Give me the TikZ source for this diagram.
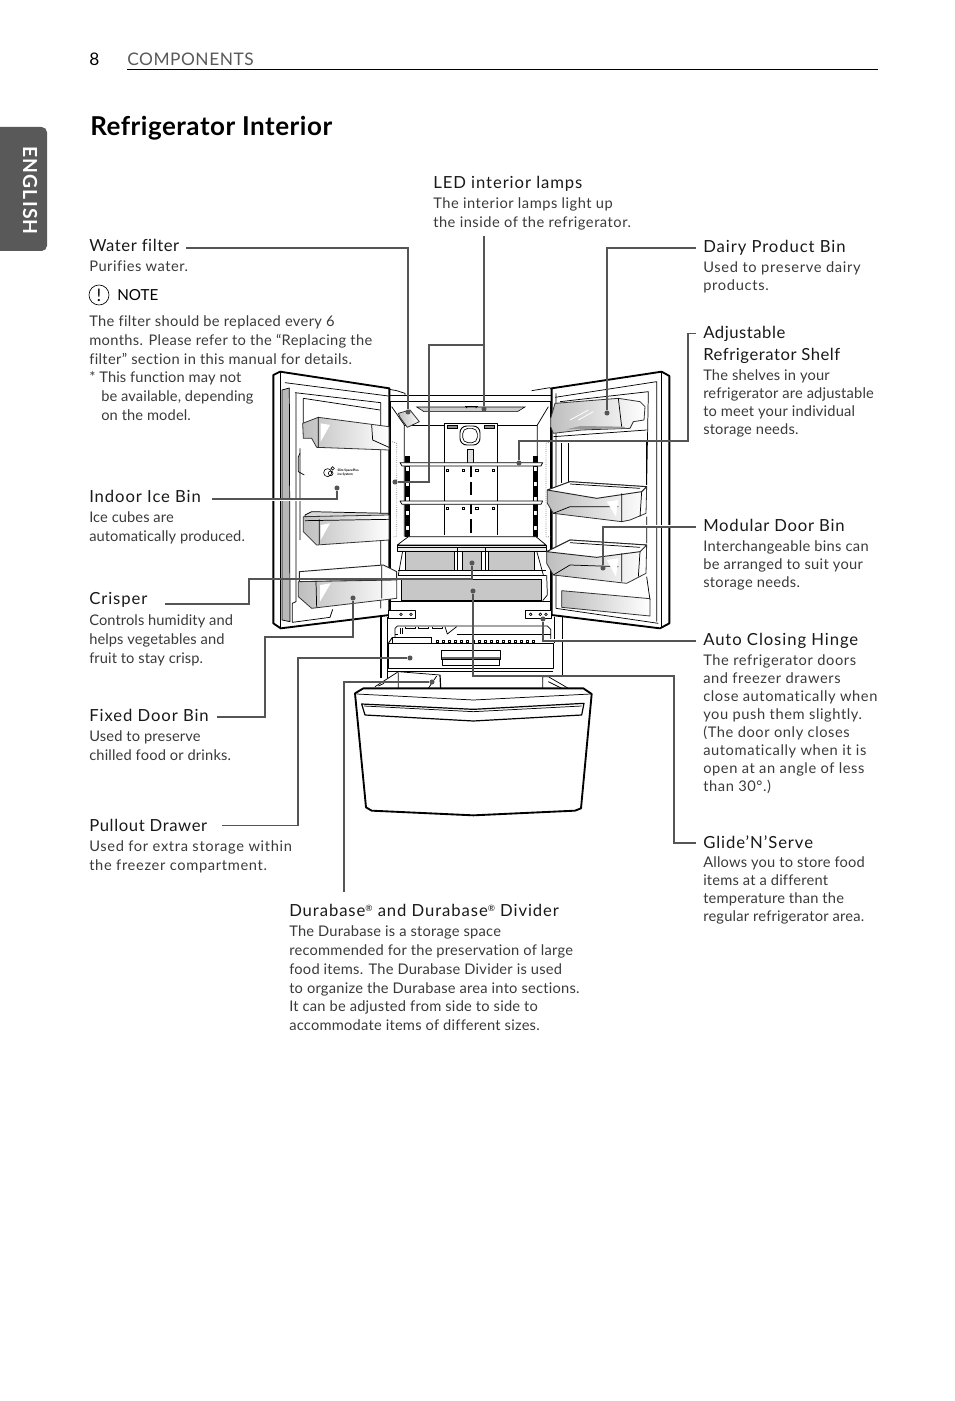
\documentclass[tikz,border=0pt]{standalone}
\usepackage{fontspec}
\setmainfont{Lato}[Ligatures=CommonOff]
\definecolor{leadgray}{HTML}{555555}
\definecolor{textgray}{HTML}{3A3A3A}
\definecolor{binshade}{HTML}{BEBEBE}
\definecolor{tabgray}{HTML}{595959}
\tikzset{
  headlbl/.style={anchor=north west, inner sep=0pt, yshift=-1.5pt, align=left, text=black!90, font=\fontsize{12.5}{16.5}\selectfont\addfontfeature{LetterSpace=#1}},
  headlbl/.default=5.5,
  bodylbl/.style={anchor=north west, inner sep=0pt, yshift=-2pt, align=left, text=textgray, font=\fontsize{11}{14.1}\selectfont\addfontfeature{LetterSpace=#1}},
  bodylbl/.default=3.5,
  bodyright/.style={anchor=north west, inner sep=0pt, yshift=-2pt, align=left, text=textgray, font=\fontsize{11}{13.5}\selectfont\addfontfeature{LetterSpace=#1}},
  bodyright/.default=3.5,
  leader/.style={draw=leadgray, line width=1.1pt, preaction={draw=white, line width=2.2pt}},
  dotmark/.style={circle, fill=leadgray, inner sep=0pt, minimum size=3.8pt, outer sep=0pt},
  doorline/.style={draw=black, line width=1.4pt, line join=round},
  thinline/.style={draw=black, line width=0.55pt, line join=round},
  binline/.style={draw=black!80, line width=0.6pt, line join=round, left color=binshade, right color=white},
  rimline/.style={draw=black!85, line width=0.7pt, line join=round, fill=white},
  glint/.style={fill=white, draw=none},
  grayfill/.style={draw=black, line width=0.55pt, fill=black!22}
}
\newcommand{\regmark}{\raisebox{3.5pt}{\fontsize{6.5}{7}\selectfont ®}}
\begin{document}
\begin{tikzpicture}[x=0.75pt, y=-0.75pt]
  \useasboundingbox (0,0) rectangle (954,1401);
  \fill[tabgray, rounded corners=4pt] (-8,127) rectangle (47,251);
  \node[rotate=-90, text=white, font=\fontsize{14.5}{15}\bfseries\selectfont\addfontfeature{LetterSpace=6}] (tabEnglish) at (30,190.5) {ENGLISH};
  \node[anchor=west, inner sep=0pt, font=\fontsize{13}{15}\selectfont] (pageNum) at (89,59.5) {8};
  \node[anchor=west, inner sep=0pt, text=black!65, font=\fontsize{13}{15}\selectfont\addfontfeature{LetterSpace=3}] (pageHead) at (127,59.5) {COMPONENTS};
  \draw[black, line width=0.65pt] (127,69) -- (878,69);
  \node[anchor=west, inner sep=0pt, font=\fontsize{19.5}{22}\bfseries\selectfont\addfontfeature{LetterSpace=2}] (pageTitle) at (90,128) {Refrigerator Interior};

  \begin{scope}[shift={(260,360)}, x=0.25pt, y=-0.25pt]
    \draw[thinline] (388,88) -- (410,92) -- (435,100) -- (435,108);
    \draw[thinline] (815,92) -- (870,83) -- (875,90);
    \draw[thinline] (388,105) -- (875,105) (388,123) -- (875,123);
    \draw[thinline] (392,123) -- (392,765) (870,123) -- (870,765);
    \draw[thinline] (395,140) -- (433,195) -- (433,530) (865,140) -- (832,195) -- (832,530);
    \draw[thinline] (433,195) -- (552,195) (712,195) -- (832,195);
    \draw[draw=black, fill=black!20, line width=0.4pt] (470,141) -- (795,141) -- (772,155) -- (492,155) -- cycle;
    \draw[black, line width=1pt] (615,140) -- (655,140);
    \fill (620,143) circle (2) (648,143) circle (2);
    \draw[binline] (415,160) -- (450,150) -- (478,185) -- (442,202) -- (420,172) -- cycle;
    \draw[black!50, densely dotted, line width=0.6pt] (397,245) -- (410,250) -- (410,530) -- (397,530);
    \draw[black!50, densely dotted, line width=0.6pt] (872,245) -- (858,250) -- (858,530) -- (872,530);
    \draw[thinline] (552,525) -- (552,190) -- (712,190) -- (712,525);
    \draw[fill=black!45, draw=black, line width=0.3pt] (563,197) rectangle (592,204) (672,197) rectangle (702,204);
    \draw[black, line width=0.7pt, rounded corners=5pt, fill=white] (600,198) rectangle (660,255);
    \draw[black, line width=0.5pt, rounded corners=4pt] (608,205) rectangle (652,248);
    \draw[thinline, fill=black!12] (623,268) rectangle (640,310);
    \foreach \railx in {442,826} {
      \draw[black, line width=0.45pt] (\railx-5,290) rectangle (\railx+5,530);
      \draw[black, line width=2pt, dash pattern=on 8pt off 3pt] (\railx,290) -- (\railx,530);
    }
    \draw[black, line width=1.6pt, dash pattern=on 10pt off 4pt] (632,310) -- (632,525);
    \foreach \shelfy in {310,425} {
      \draw[thinline, fill=white] (420,\shelfy-2) -- (848,\shelfy-2) -- (843,\shelfy+8) -- (426,\shelfy+8) -- cycle;
      \foreach \holex in {562,610,650,700}
        \draw[black, line width=0.35pt] (\holex-4,\shelfy+17) rectangle (\holex+4,\shelfy+23);
    }
    \draw[thinline, fill=white] (445,530) -- (828,530) -- (858,555) -- (412,555) -- cycle;
    \draw[thinline, fill=black!8] (412,555) rectangle (858,573);
    \draw[black, line width=0.5pt] (412,563) -- (858,563);
    \draw[grayfill] (437,575) rectangle (583,630);
    \draw[grayfill] (607,575) rectangle (665,630);
    \draw[grayfill] (685,575) rectangle (822,630);
    \draw[thinline] (592,565) -- (592,630) (675,565) -- (675,630);
    \draw[thinline] (428,573) -- (415,645) (830,573) -- (850,645);
    \draw[thinline] (415,632) -- (858,632) (415,645) -- (858,645);
    \draw[grayfill] (425,657) -- (845,657) -- (845,722) -- (425,722) -- cycle;
    \draw[thinline] (860,645) -- (862,705) -- (848,722);

    \draw[doorline, fill=white] (40,45) -- (60,35) -- (388,85) -- (388,765) -- (62,805) -- (40,790) -- cycle;
    \draw[thinline] (60,35) -- (60,805);
    \draw[thinline] (75,68) -- (385,108) (105,98) -- (362,128) -- (362,745);
    \draw[thinline, fill=black!28] (66,90) -- (88,84) -- (90,785) -- (66,780) -- cycle;
    \draw[thinline] (108,98) -- (108,725) -- (97,730) -- (97,787) -- (210,772) -- (218,748);
    \draw[thinline] (130,115) -- (360,150) (130,115) -- (130,190) (120,265) -- (120,540);
    \draw[thinline] (120,280) -- (115,290) -- (115,335) -- (133,345);
    \draw[binline] (128,190) -- (175,172) -- (387,200) -- (387,270) -- (170,262) -- (155,235) -- (130,235) -- cycle;
    \fill[glint] (182,190) -- (210,195) -- (182,245) -- cycle;
    \draw[thinline] (175,172) -- (175,262) (335,195) -- (338,240) -- (387,262);
    \draw[thinline, fill=black!15] (135,465) -- (155,455) -- (385,460) -- (385,470) -- (135,475) -- cycle;
    \draw[binline] (130,470) -- (387,465) -- (387,540) -- (170,555) -- (130,515) -- cycle;
    \fill[glint] (182,495) -- (210,490) -- (182,540) -- cycle;
    \draw[thinline] (135,482) -- (387,478) (178,478) -- (178,552);
    \draw[rimline] (118,635) -- (370,615) -- (410,635) -- (410,660) -- (118,665) -- cycle;
    \draw[binline] (115,665) -- (410,660) -- (410,715) -- (155,745) -- (115,710) -- cycle;
    \fill[glint] (180,675) -- (212,670) -- (180,725) -- cycle;
    \draw[thinline] (365,617) -- (365,715) (168,665) -- (170,742);
    \draw[black, line width=0.45pt] (203,338) circle (12) (218,325) circle (5) (212,340) circle (7);
    \node[anchor=west, inner sep=0pt, align=left, font=\fontsize{2.4}{3}\bfseries\selectfont] (logoText) at (232,337) {Slim SpacePlus\\Ice System};

    \draw[doorline, fill=white] (875,85) -- (1205,35) -- (1228,48) -- (1228,790) -- (1200,805) -- (875,765) -- cycle;
    \draw[thinline] (1205,35) -- (1205,805);
    \draw[thinline] (885,112) -- (1190,65) -- (1190,785);
    \draw[thinline] (900,125) -- (1165,95) -- (1160,375);
    \draw[thinline] (888,100) -- (888,745) -- (1195,790);
    \draw[thinline] (905,250) -- (905,370) (925,250) -- (925,370);
    \draw[black, line width=1pt] (1160,245) -- (1160,375);
    \draw[thinline] (1160,470) -- (1160,550) (1160,650) -- (1170,720);
    \draw[binline] (872,175) -- (885,130) -- (1075,115) -- (1140,125) -- (1155,140) -- (1152,180) -- (1120,185) -- (1110,205) -- (965,210) -- (880,220) -- (872,200) -- cycle;
    \fill[black!40] (920,208) -- (960,198) -- (1090,200) -- (1100,205) -- cycle;
    \draw[white, line width=0.6pt] (930,180) -- (985,150) (955,180) -- (1000,155);
    \draw[thinline] (1075,115) -- (1085,200) (880,230) -- (1160,210);
    \draw[binline] (862,390) -- (930,365) -- (1160,380) -- (1158,460) -- (1110,480) -- (1085,485) -- (880,460) -- (862,430) -- cycle;
    \draw[rimline] (862,390) -- (930,365) -- (1160,380) -- (1145,395) -- (1010,415) -- cycle;
    \draw[thinline] (930,372) -- (1140,385) (880,460) -- (930,440) -- (1075,440) (1145,395) -- (1140,470) (1085,400) -- (1085,485);
    \fill[glint] (1040,425) -- (1075,420) -- (1068,470) -- cycle;
    \draw[binline] (860,575) -- (930,540) -- (1160,555) -- (1158,640) -- (1100,670) -- (880,645) -- (860,610) -- cycle;
    \draw[rimline] (860,575) -- (930,540) -- (1160,555) -- (1140,575) -- (1010,592) -- cycle;
    \draw[thinline] (930,548) -- (1140,562) (880,645) -- (930,615) -- (1075,620) (1140,575) -- (1135,650) (1085,580) -- (1085,665);
    \fill[glint] (1040,600) -- (1075,595) -- (1068,650) -- cycle;
    \draw[binline] (905,692) -- (1170,716) -- (1170,768) -- (905,742) -- cycle;
  \end{scope}

  \begin{scope}[shift={(260,560)}, x=0.25pt, y=-0.25pt]
    \draw[thinline] (388,125) -- (875,125);
    \draw[thinline, fill=white] (385,150) rectangle (465,175);
    \draw[thinline, fill=white] (797,150) rectangle (875,175);
    \foreach \boltx in {423,453,812,841,858}
      \draw[black, line width=0.5pt] (\boltx,163) circle (4);
    \draw[line width=0.9pt] (363,170) -- (363,355) (907,170) -- (907,345);
    \draw[line width=0.7pt] (383,170) -- (383,355) (883,170) -- (883,250);
    \draw[thinline] (405,232) -- (405,205) -- (412,198) -- (862,198) -- (872,208) -- (872,245);
    \draw[thinline] (405,222) -- (415,222) (590,222) -- (872,222);
    \draw[thinline] (420,205) -- (420,222) (428,205) -- (428,222) (436,200) -- (436,206) -- (465,206) -- (465,200) (476,200) -- (476,206) -- (504,206) -- (504,200) (518,200) -- (518,206) -- (546,206) -- (546,200);
    \draw[thinline] (555,200) -- (562,222) -- (590,200);
    \draw[black, line width=1pt, fill=white] (397,232) rectangle (515,250);
    \foreach \bumpx in {532,550,...,832}
      \draw[black, line width=0.4pt] (\bumpx-3,241) rectangle (\bumpx+3,248);
    \draw[thinline, line width=0.7pt, fill=white] (385,250) -- (880,250) -- (880,325) -- (385,325) -- cycle;
    \draw[thinline, line width=0.7pt] (385,250) -- (397,232);
    \draw[thinline] (545,270) rectangle (721,298);
    \draw[black!60, line width=1.2pt] (545,294) -- (721,294);
    \draw[thinline] (548,298) rectangle (719,315);
    \draw[thinline] (385,334) -- (880,334);
    \draw[thinline] (345,380) -- (415,335) -- (540,345);
    \draw[black, line width=0.9pt] (540,345) -- (542,385);
    \draw[thinline] (415,338) -- (415,385) (355,378) -- (372,370) (505,385) -- (530,348);
    \draw[thinline] (925,385) -- (865,350) -- (848,350) -- (848,385) (865,365) -- (905,385);
    \draw[doorline, fill=white] (285,400) -- (310,385) -- (970,385) -- (995,402) -- (963,745) -- (945,752) -- (640,766) -- (335,752) -- (318,742) -- cycle;
    \draw[thinline] (290,402) -- (640,420) -- (992,402);
    \draw[doorline, line width=0.9pt] (305,432) -- (640,448) -- (972,430) -- (965,465) -- (640,483) -- (315,465) -- cycle;
    \draw[thinline] (312,438) -- (640,455) -- (965,438);
  \end{scope}

  \node[headlbl=3.5] (lblFilter) at (89,237) {Water filter};
  \node[bodylbl] (lblFilterBody) at (89,258) {Purifies water.};
  \node[circle, draw=black, line width=0.5pt, minimum size=15pt, inner sep=0pt, font=\fontsize{13}{14}\selectfont] (noteIcon) at (99,295) {!};
  \node[anchor=west, inner sep=0pt, font=\fontsize{11.4}{13}\selectfont] (noteHead) at (117,295) {NOTE};
  \node[bodylbl=2.4] (lblNote) at (89,313) {The filter should be replaced every 6\\months. Please refer to the “Replacing the\\filter” section in this manual for details.};
  \node[bodylbl=0.8] (lblNoteStar) at (89,369) {* This function may not\\\hspace*{9pt}be available, depending\\\hspace*{9pt}on the model.};
  \node[headlbl] (lblLed) at (433,174) {LED interior lamps};
  \node[bodylbl] (lblLedBody) at (433,195) {The interior lamps light up\\the inside of the refrigerator.};
  \node[headlbl] (lblDairy) at (703,238) {Dairy Product Bin};
  \node[bodyright=4.7] (lblDairyBody) at (703,259) {Used to preserve dairy\\products.};
  \node[headlbl=3.2] (lblShelf) at (703,324) {Adjustable\\Refrigerator Shelf};
  \node[bodyright=1.2] (lblShelfBody) at (703,367) {The shelves in your\\refrigerator are adjustable\\to meet your individual\\storage needs.};
  \node[headlbl] (lblIce) at (89,488) {Indoor Ice Bin};
  \node[bodylbl=0.6] (lblIceBody) at (89,509) {Ice cubes are\\automatically produced.};
  \node[headlbl=4.5] (lblModular) at (703,517) {Modular Door Bin};
  \node[bodyright=2.1] (lblModularBody) at (703,538) {Interchangeable bins can\\be arranged to suit your\\storage needs.};
  \node[headlbl] (lblCrisper) at (89,590) {Crisper};
  \node[bodylbl=0.6] (lblCrisperBody) at (89,612) {Controls humidity and\\helps vegetables and\\fruit to stay crisp.};
  \node[headlbl] (lblHinge) at (703,631) {Auto Closing Hinge};
  \node[bodyright=4] (lblHingeBody) at (703,652) {The refrigerator doors\\and freezer drawers\\close automatically when\\you push them slightly.\\(The door only closes\\automatically when it is\\open at an angle of less\\than 30°.)};
  \node[headlbl] (lblFixed) at (89,707) {Fixed Door Bin};
  \node[bodylbl=1.1] (lblFixedBody) at (89,728) {Used to preserve\\chilled food or drinks.};
  \node[headlbl=3.7] (lblPullout) at (89,817) {Pullout Drawer};
  \node[bodylbl=4.5] (lblPulloutBody) at (89,838) {Used for extra storage within\\the freezer compartment.};
  \node[headlbl] (lblGlide) at (703,833) {Glide'N'Serve};
  \node[bodyright=1.4] (lblGlideBody) at (703,854) {Allows you to store food\\items at a different\\temperature than the\\regular refrigerator area.};
  \node[headlbl] (lblDurabase) at (289,902) {Durabase\regmark{} and Durabase\regmark{} Divider};
  \node[bodylbl=1.6] (lblDurabaseBody) at (289,923) {The Durabase is a storage space\\recommended for the preservation of large\\food items. The Durabase Divider is used\\to organize the Durabase area into sections.\\It can be adjusted from side to side to\\accommodate items of different sizes.};

  \node[dotmark] (dotFilter) at (408,412) {};
  \node[dotmark] (dotLed) at (484,409) {};
  \node[dotmark] (dotWall) at (395,482) {};
  \node[dotmark] (dotDairy) at (607,413) {};
  \node[dotmark] (dotShelf) at (519,463) {};
  \node[dotmark] (dotIce) at (337,488) {};
  \node[dotmark] (dotModular) at (603,568) {};
  \node[dotmark] (dotCrisper) at (472,563) {};
  \node[dotmark] (dotGlide) at (473,591) {};
  \node[dotmark] (dotFixed) at (353,598) {};
  \node[dotmark] (dotHinge) at (543,619) {};
  \node[dotmark] (dotPullout) at (410,658) {};
  \node[dotmark] (dotDurabase) at (432,682) {};
  \coordinate (jointLed) at (484,345);

  \draw[leader] ([shift={(5pt,-1.75pt)}]lblFilter.east) -| (dotFilter);
  \draw[leader] ([yshift=-4pt]lblLedBody.south -| dotLed) -- (dotLed);
  \draw[leader] (jointLed) -- (429,345) |- (dotWall);
  \draw[leader] ([shift={(-5pt,-0.25pt)}]lblDairy.west) -| (dotDairy);
  \draw[leader] ([shift={(-5pt,-5.5pt)}]lblShelf.north west) -| (688,441) -| (dotShelf);
  \draw[leader] ([shift={(8pt,-2pt)}]lblIce.east) -| (dotIce);
  \draw[leader] ([shift={(-5pt,-1pt)}]lblModular.west) -| (dotModular);
  \draw[leader] ([shift={(13pt,-3.25pt)}]lblCrisper.east) -| (249,579) -| (dotCrisper);
  \draw[leader] ([shift={(6pt,-1pt)}]lblFixed.east) -| (265,637) -| (dotFixed);
  \draw[leader] ([shift={(11pt,0pt)}]lblPullout.east) -| (298,658) -- (dotPullout);
  \draw[leader] ([shift={(41.25pt,9pt)}]lblDurabase.north west) |- (dotDurabase);
  \draw[leader] ([shift={(-5pt,0.1pt)}]lblHinge.west) -| (dotHinge);
  \draw[leader] ([shift={(-5pt,-1pt)}]lblGlide.west) -| (674,676) -| (dotGlide);
\end{tikzpicture}
\end{document}
